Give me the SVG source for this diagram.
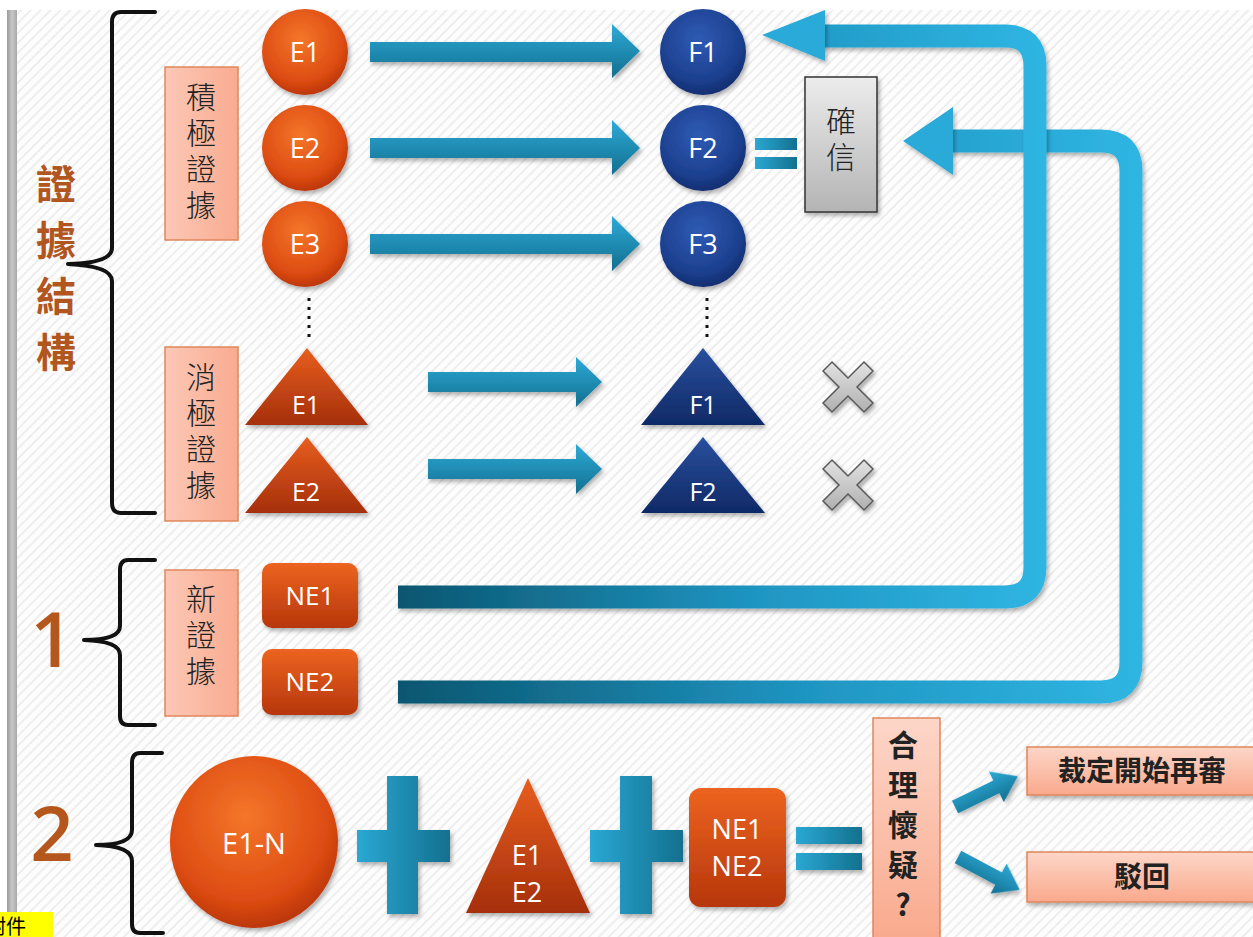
<svg xmlns="http://www.w3.org/2000/svg" width="1253" height="937" viewBox="0 0 1253 937">
<defs>
<pattern id="stripes" width="7" height="7" patternUnits="userSpaceOnUse" patternTransform="rotate(45)">
<rect width="7" height="7" fill="#fdfdfd"/>
<rect width="2" height="7" fill="#eeeeee"/>
</pattern>
<linearGradient id="grayBar" x1="0" y1="0" x2="1" y2="0">
<stop offset="0" stop-color="#9a9a9a"/><stop offset="0.5" stop-color="#c8c8c8"/><stop offset="1" stop-color="#a8a8a8"/>
</linearGradient>
<radialGradient id="orangeBall" cx="0.45" cy="0.35" r="0.7">
<stop offset="0" stop-color="#f4762a"/><stop offset="0.7" stop-color="#dd4c12"/><stop offset="1" stop-color="#b3300a"/>
</radialGradient>
<radialGradient id="blueBall" cx="0.45" cy="0.35" r="0.7">
<stop offset="0" stop-color="#2f5bb5"/><stop offset="0.7" stop-color="#1c3f8e"/><stop offset="1" stop-color="#0f2866"/>
</radialGradient>
<linearGradient id="orangeTri" x1="0" y1="0" x2="0" y2="1">
<stop offset="0" stop-color="#e85e1e"/><stop offset="1" stop-color="#a52f0c"/>
</linearGradient>
<linearGradient id="blueTri" x1="0" y1="0" x2="0" y2="1">
<stop offset="0" stop-color="#2a4f9e"/><stop offset="1" stop-color="#0f2a66"/>
</linearGradient>
<linearGradient id="orangeBox" x1="0" y1="0" x2="0" y2="1">
<stop offset="0" stop-color="#ec6420"/><stop offset="1" stop-color="#b7360c"/>
</linearGradient>
<linearGradient id="salmon" x1="0" y1="0" x2="1" y2="0">
<stop offset="0" stop-color="#fcc8b6"/><stop offset="1" stop-color="#f9ab90"/>
</linearGradient>
<linearGradient id="salmonV" x1="0" y1="0" x2="0" y2="1">
<stop offset="0" stop-color="#fdd6c8"/><stop offset="1" stop-color="#f9a98c"/>
</linearGradient>
<linearGradient id="grayBox" x1="0" y1="0" x2="0" y2="1">
<stop offset="0" stop-color="#ececec"/><stop offset="1" stop-color="#b4b4b4"/>
</linearGradient>
<linearGradient id="teal" x1="0" y1="0" x2="0" y2="1">
<stop offset="0" stop-color="#2eaad6"/><stop offset="1" stop-color="#126f90"/>
</linearGradient>
<linearGradient id="tealH" x1="0" y1="0" x2="1" y2="0">
<stop offset="0" stop-color="#2aa8d3"/><stop offset="1" stop-color="#13708f"/>
</linearGradient>
<linearGradient id="pipe" gradientUnits="userSpaceOnUse" x1="398" y1="0" x2="1045" y2="0">
<stop offset="0" stop-color="#0b5670"/><stop offset="0.55" stop-color="#1f95c2"/><stop offset="1" stop-color="#2fb5e2"/>
</linearGradient>
<linearGradient id="pipe2" gradientUnits="userSpaceOnUse" x1="398" y1="0" x2="1140" y2="0">
<stop offset="0" stop-color="#0b5670"/><stop offset="0.55" stop-color="#1f95c2"/><stop offset="1" stop-color="#2fb5e2"/>
</linearGradient>
<linearGradient id="xGray" x1="0" y1="0" x2="0" y2="1">
<stop offset="0" stop-color="#e2e2e2"/><stop offset="1" stop-color="#b0b0b0"/>
</linearGradient>
<filter id="sh" x="-20%" y="-20%" width="150%" height="150%">
<feDropShadow dx="2" dy="3" stdDeviation="2" flood-color="#000" flood-opacity="0.3"/>
</filter>
</defs>
<style>
.cjk{font-family:"Noto Sans CJK TC","Noto Sans CJK SC",sans-serif;}
.lat{font-family:"Open Sans","Liberation Sans",sans-serif;fill:#ffffff;text-anchor:middle;}
.vert{writing-mode:vertical-rl;text-orientation:upright;}
.big{font-family:"Noto Sans CJK TC",sans-serif;fill:#b0561e;font-weight:bold;font-size:40px;letter-spacing:16px;}
.num{font-family:"Open Sans","Liberation Sans",sans-serif;fill:#b5561d;font-size:76px;font-weight:600;text-anchor:middle;}
.vlab{font-family:"Noto Sans CJK TC",sans-serif;font-weight:300;fill:#222;font-size:30px;letter-spacing:6px;}
.brace{fill:none;stroke:#111;stroke-width:4;stroke-linejoin:round;stroke-linecap:round;}
.sbox{fill:url(#salmon);stroke:#e0865c;stroke-width:1.5;}
.arr{fill:url(#teal);filter:url(#sh);}
.dot{stroke:#111;stroke-width:3;stroke-dasharray:3 6;}
.xm{fill:url(#xGray);stroke:#5a5a5a;stroke-width:1.5;filter:url(#sh);}
.bold{font-family:"Noto Sans CJK TC",sans-serif;font-weight:bold;fill:#222;text-anchor:middle;}
</style>

<!-- background -->
<rect x="0" y="0" width="1253" height="937" fill="#ffffff"/>
<rect x="17" y="10" width="1236" height="927" fill="url(#stripes)"/>
<rect x="7" y="10" width="10" height="927" fill="url(#grayBar)"/>

<!-- left labels and braces -->
<g id="label-structure">
<text class="big vert" x="56" y="164">證據結構</text>
<path class="brace" d="M155,12 L121,12 Q112,12 112,22 L112,248 Q112,263 68,264 Q112,266 112,281 L112,503 Q112,513 121,513 L155,513"/>
</g>
<g id="label-1">
<text class="num" x="52" y="667">1</text>
<path class="brace" d="M155,560 L128,560 Q120,560 120,570 L120,626 Q120,640 84,640 Q120,641 120,655 L120,716 Q120,725 128,725 L155,725"/>
</g>
<g id="label-2">
<text class="num" x="52" y="861">2</text>
<path class="brace" d="M162,753 L140,753 Q132,753 132,763 L132,830 Q132,845 96,845 Q132,846 132,861 L132,924 Q132,933 140,933 L163,933"/>
</g>

<!-- category boxes -->
<g id="box-positive">
<rect class="sbox" x="165" y="67" width="73" height="173"/>
<text class="vlab vert" x="201" y="82">積極證據</text>
</g>
<g id="box-negative">
<rect class="sbox" x="165" y="347" width="73" height="174"/>
<text class="vlab vert" x="201" y="362">消極證據</text>
</g>
<g id="box-new">
<rect class="sbox" x="165" y="570" width="73" height="146"/>
<text class="vlab vert" x="201" y="584">新證據</text>
</g>

<!-- connectors -->
<g id="connectors">
<g id="arrows-positive">
<path class="arr" d="M370,42 H612 V24 L640,51 L612,78 V62 H370 Z"/>
<path class="arr" d="M370,138 H612 V120 L640,148 L612,175 V158 H370 Z"/>
<path class="arr" d="M370,234 H612 V216 L640,244 L612,271 V254 H370 Z"/>
</g>
<g id="arrows-negative">
<path class="arr" d="M428,372 H576 V357 L602,382 L576,407 V392 H428 Z"/>
<path class="arr" d="M428,459 H576 V444 L602,469 L576,494 V479 H428 Z"/>
</g>
<g id="dots">
<line class="dot" x1="309" y1="298" x2="309" y2="342"/>
<line class="dot" x1="707" y1="298" x2="707" y2="342"/>
</g>
<g id="pipe-ne2">
<path d="M398,692 H1101 Q1131,692 1131,662 V171 Q1131,141 1101,141 H950" fill="none" stroke="url(#pipe2)" stroke-width="23" filter="url(#sh)"/>
<polygon points="953,107 903,141 953,175" fill="#2aaad8" filter="url(#sh)"/>
</g>
<g id="pipe-ne1">
<path d="M398,597 H1005 Q1035,597 1035,567 V66 Q1035,36 1005,36 H822" fill="none" stroke="url(#pipe)" stroke-width="23" filter="url(#sh)"/>
<polygon points="825,10 762,35 825,61" fill="#2aaad8" filter="url(#sh)"/>
</g>
<g id="equals-top">
<rect x="755" y="138" width="42" height="12" fill="url(#tealH)"/>
<rect x="755" y="157" width="42" height="12" fill="url(#tealH)"/>
</g>
<g id="small-arrows">
<polygon points="0,-7 46,-7 46,-17 70,0 46,17 46,7 0,7" fill="url(#teal)" filter="url(#sh)" transform="translate(955,807) rotate(-26)"/>
<polygon points="0,-7 46,-7 46,-17 70,0 46,17 46,7 0,7" fill="url(#teal)" filter="url(#sh)" transform="translate(958,857) rotate(28)"/>
</g>
</g>

<!-- E nodes -->
<g id="node-e1"><circle cx="305" cy="52" r="43" fill="url(#orangeBall)" filter="url(#sh)"/><text class="lat" x="305" y="62" font-size="27">E1</text></g>
<g id="node-e2"><circle cx="305" cy="148" r="43" fill="url(#orangeBall)" filter="url(#sh)"/><text class="lat" x="305" y="158" font-size="27">E2</text></g>
<g id="node-e3"><circle cx="305" cy="244" r="43" fill="url(#orangeBall)" filter="url(#sh)"/><text class="lat" x="305" y="254" font-size="27">E3</text></g>

<!-- F nodes -->
<g id="node-f1"><circle cx="703" cy="52" r="43" fill="url(#blueBall)" filter="url(#sh)"/><text class="lat" x="703" y="62" font-size="27">F1</text></g>
<g id="node-f2"><circle cx="703" cy="148" r="43" fill="url(#blueBall)" filter="url(#sh)"/><text class="lat" x="703" y="158" font-size="27">F2</text></g>
<g id="node-f3"><circle cx="703" cy="244" r="43" fill="url(#blueBall)" filter="url(#sh)"/><text class="lat" x="703" y="254" font-size="27">F3</text></g>

<!-- conviction box -->
<g id="node-conviction">
<rect x="805" y="77" width="72" height="135" fill="url(#grayBox)" stroke="#333" stroke-width="1.5" filter="url(#sh)"/>
<text class="vlab vert" x="841" y="106" font-size="34">確信</text>
</g>

<!-- negative triangles -->
<g id="node-te1"><polygon points="307,348 368,425 245,425" fill="url(#orangeTri)" filter="url(#sh)"/><text class="lat" x="306" y="414" font-size="25">E1</text></g>
<g id="node-te2"><polygon points="307,437 368,513 245,513" fill="url(#orangeTri)" filter="url(#sh)"/><text class="lat" x="306" y="501" font-size="25">E2</text></g>
<g id="node-tf1"><polygon points="703,348 765,425 641,425" fill="url(#blueTri)" filter="url(#sh)"/><text class="lat" x="703" y="414" font-size="25">F1</text></g>
<g id="node-tf2"><polygon points="703,437 765,513 641,513" fill="url(#blueTri)" filter="url(#sh)"/><text class="lat" x="703" y="501" font-size="25">F2</text></g>

<!-- X marks -->
<g id="x-1"><polygon class="xm" transform="translate(848,387)" points="-25,-16 -16,-25 0,-9 16,-25 25,-16 9,0 25,16 16,25 0,9 -16,25 -25,16 -9,0"/></g>
<g id="x-2"><polygon class="xm" transform="translate(848,485)" points="-25,-16 -16,-25 0,-9 16,-25 25,-16 9,0 25,16 16,25 0,9 -16,25 -25,16 -9,0"/></g>

<!-- new evidence -->
<g id="node-ne1"><rect x="262" y="563" width="96" height="65" rx="10" fill="url(#orangeBox)" filter="url(#sh)"/><text class="lat" x="310" y="605" font-size="26">NE1</text></g>
<g id="node-ne2"><rect x="262" y="649" width="96" height="66" rx="10" fill="url(#orangeBox)" filter="url(#sh)"/><text class="lat" x="310" y="691" font-size="26">NE2</text></g>

<!-- bottom formula -->
<g id="node-e1n"><ellipse cx="254" cy="842" rx="84" ry="86" fill="url(#orangeBall)" filter="url(#sh)"/><text class="lat" x="254" y="854" font-size="29">E1-N</text></g>
<g id="plus-1"><path d="M387,776 H418 V830 H450 V862 H418 V914 H387 V862 H357 V830 H387 Z" fill="url(#tealH)" filter="url(#sh)"/></g>
<g id="node-tri-e12"><polygon points="528,778 590,913 466,913" fill="url(#orangeTri)" filter="url(#sh)"/><text class="lat" x="527" y="865" font-size="27">E1</text><text class="lat" x="527" y="902" font-size="27">E2</text></g>
<g id="plus-2"><path d="M620,776 H652 V830 H683 V862 H652 V914 H620 V862 H590 V830 H620 Z" fill="url(#tealH)" filter="url(#sh)"/></g>
<g id="node-ne12"><rect x="689" y="788" width="97" height="119" rx="12" fill="url(#orangeBox)" filter="url(#sh)"/><text class="lat" x="737" y="839" font-size="27">NE1</text><text class="lat" x="737" y="876" font-size="27">NE2</text></g>
<g id="equals-bottom">
<rect x="796" y="827" width="66" height="17" fill="url(#tealH)" filter="url(#sh)"/>
<rect x="796" y="853" width="66" height="17" fill="url(#tealH)" filter="url(#sh)"/>
</g>
<g id="node-doubt">
<rect x="873" y="718" width="67" height="225" fill="url(#salmonV)" stroke="#e0865c" stroke-width="1.5"/>
<text class="bold vert" x="903" y="730" font-size="30" style="text-anchor:start;letter-spacing:10px">合理懷疑?</text>
</g>
<g id="node-retrial">
<rect x="1027" y="747" width="240" height="48" fill="url(#salmonV)" stroke="#e0865c" stroke-width="1.5" filter="url(#sh)"/>
<text class="bold" x="1142" y="781" font-size="28">裁定開始再審</text>
</g>
<g id="node-dismiss">
<rect x="1027" y="852" width="240" height="50" fill="url(#salmonV)" stroke="#e0865c" stroke-width="1.5" filter="url(#sh)"/>
<text class="bold" x="1142" y="887" font-size="28">駁回</text>
</g>

<!-- yellow footer label -->
<g id="footer-label">
<rect x="0" y="912" width="53" height="25" fill="#ffff00"/>
<text x="-14" y="934" font-size="20" class="cjk" fill="#000">附件</text>
</g>
</svg>
